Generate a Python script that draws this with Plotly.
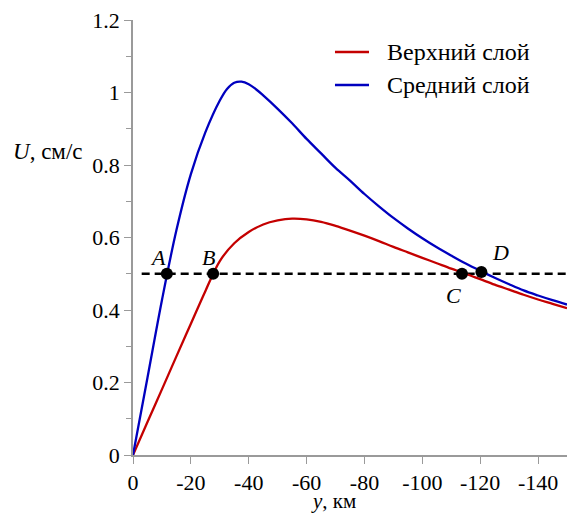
import plotly.graph_objects as go

# Data
blue_x = [0, -5, -10, -15, -20, -25, -30, -32.5, -35, -37.5, -40, -42.5, -45, -50, -55, -60, -65, -70, -75, -80, -85, -90, -95, -100, -105, -110, -115, -120, -125, -130, -135, -140, -145, -150]
blue_y = [0, 0.213, 0.427, 0.62, 0.775, 0.89, 0.978, 1.010, 1.027, 1.030, 1.023, 1.009, 0.992, 0.955, 0.915, 0.872, 0.832, 0.792, 0.757, 0.720, 0.686, 0.654, 0.625, 0.598, 0.573, 0.550, 0.528, 0.508, 0.489, 0.471, 0.454, 0.440, 0.427, 0.415]

red_x = [0, -5, -10, -15, -20, -25, -30, -35, -40, -45, -50, -55, -60, -65, -70, -75, -80, -85, -90, -95, -100, -105, -110, -115, -120, -125, -130, -135, -140, -145, -150]
red_y = [0, 0.091, 0.181, 0.272, 0.362, 0.452, 0.535, 0.584, 0.615, 0.636, 0.647, 0.652, 0.650, 0.643, 0.632, 0.619, 0.605, 0.590, 0.574, 0.559, 0.544, 0.529, 0.514, 0.500, 0.485, 0.470, 0.456, 0.442, 0.429, 0.417, 0.405]

level_x = [-3, -150]
level_y = [0.5, 0.5]

pts_x = [-11.7, -27.7, -113.7, -120.4]
pts_y = [0.5, 0.5, 0.5, 0.505]
pts_lbl = ["A", "B", "C", "D"]
lbl_x = [-8.8, -26.2, -110.7, -126.9]
lbl_y = [0.545, 0.545, 0.441, 0.558]

x_ticks = [0, -20, -40, -60, -80, -100, -120, -140]
x_ticktext = ["0", "-20", "-40", "-60", "-80", "-100", "-120", "-140"]

series_names = ["Верхний слой", "Средний слой"]
RED = "#c40000"
BLUE = "#0000bf"
FONT = "Liberation Serif"

fig = go.Figure()
fig.add_trace(go.Scatter(x=level_x, y=level_y, mode="lines",
                         line=dict(color="black", width=2.5, dash="8px,5px"),
                         showlegend=False, hoverinfo="skip"))
fig.add_trace(go.Scatter(x=red_x, y=red_y, mode="lines", name=series_names[0],
                         line=dict(color=RED, width=2.3, shape="spline", smoothing=1.0),
                         showlegend=False))
fig.add_trace(go.Scatter(x=blue_x, y=blue_y, mode="lines", name=series_names[1],
                         line=dict(color=BLUE, width=2.3, shape="spline", smoothing=1.0),
                         showlegend=False))
fig.add_trace(go.Scatter(x=pts_x, y=pts_y, mode="markers",
                         marker=dict(color="black", size=12),
                         showlegend=False, cliponaxis=False))

for lx, ly, t in zip(lbl_x, lbl_y, pts_lbl):
    fig.add_annotation(x=lx, y=ly, xref="x", yref="y", text=f"<i>{t}</i>",
                       showarrow=False, font=dict(family=FONT, size=22, color="black"))

# Custom legend
leg_rows = [0.9264, 0.8506]
for name, col, yy in zip(series_names, [RED, BLUE], leg_rows):
    fig.add_shape(type="line", xref="paper", yref="paper",
                  x0=0.4654, x1=0.5438, y0=yy, y1=yy,
                  line=dict(color=col, width=2.3))
    fig.add_annotation(x=0.5806, y=yy, xref="paper", yref="paper", text=name,
                       xanchor="left", yanchor="middle", showarrow=False,
                       font=dict(family=FONT, size=24, color="black"))

# Axis titles
fig.add_annotation(x=-0.281, y=0.697, xref="paper", yref="paper",
                   text="<i>U</i>, см/с", xanchor="left", yanchor="middle",
                   showarrow=False, font=dict(family=FONT, size=23, color="black"))
fig.add_annotation(x=(333 - 133) / 434, y=(455 - 501) / 435, xref="paper", yref="paper",
                   text="<i>y</i>, км", xanchor="center", yanchor="middle",
                   showarrow=False, font=dict(family=FONT, size=21, color="black"))

axis_col = "#9a9a9a"
fig.update_xaxes(range=[0, -150], tickmode="array", tickvals=x_ticks, ticktext=x_ticktext,
                 ticks="outside", ticklen=7, tickwidth=1.3, tickcolor=axis_col,
                 showline=True, linecolor=axis_col, linewidth=1.5, showgrid=False,
                 zeroline=False, tickfont=dict(family=FONT, size=22, color="black"))
fig.update_yaxes(range=[0, 1.2], tick0=0, dtick=0.2, ticks="outside", ticklen=7,
                 tickwidth=1.3, tickcolor=axis_col,
                 minor=dict(dtick=0.1, ticks="outside", ticklen=5, tickcolor=axis_col, tickwidth=1.3),
                 showline=True, linecolor=axis_col, linewidth=1.5, showgrid=False,
                 zeroline=False, tickfont=dict(family=FONT, size=22, color="black"))

fig.update_layout(width=567, height=514, margin=dict(l=133, r=0, t=20, b=59),
                  plot_bgcolor="white", paper_bgcolor="white", showlegend=False)

fig.write_html("out.html")
